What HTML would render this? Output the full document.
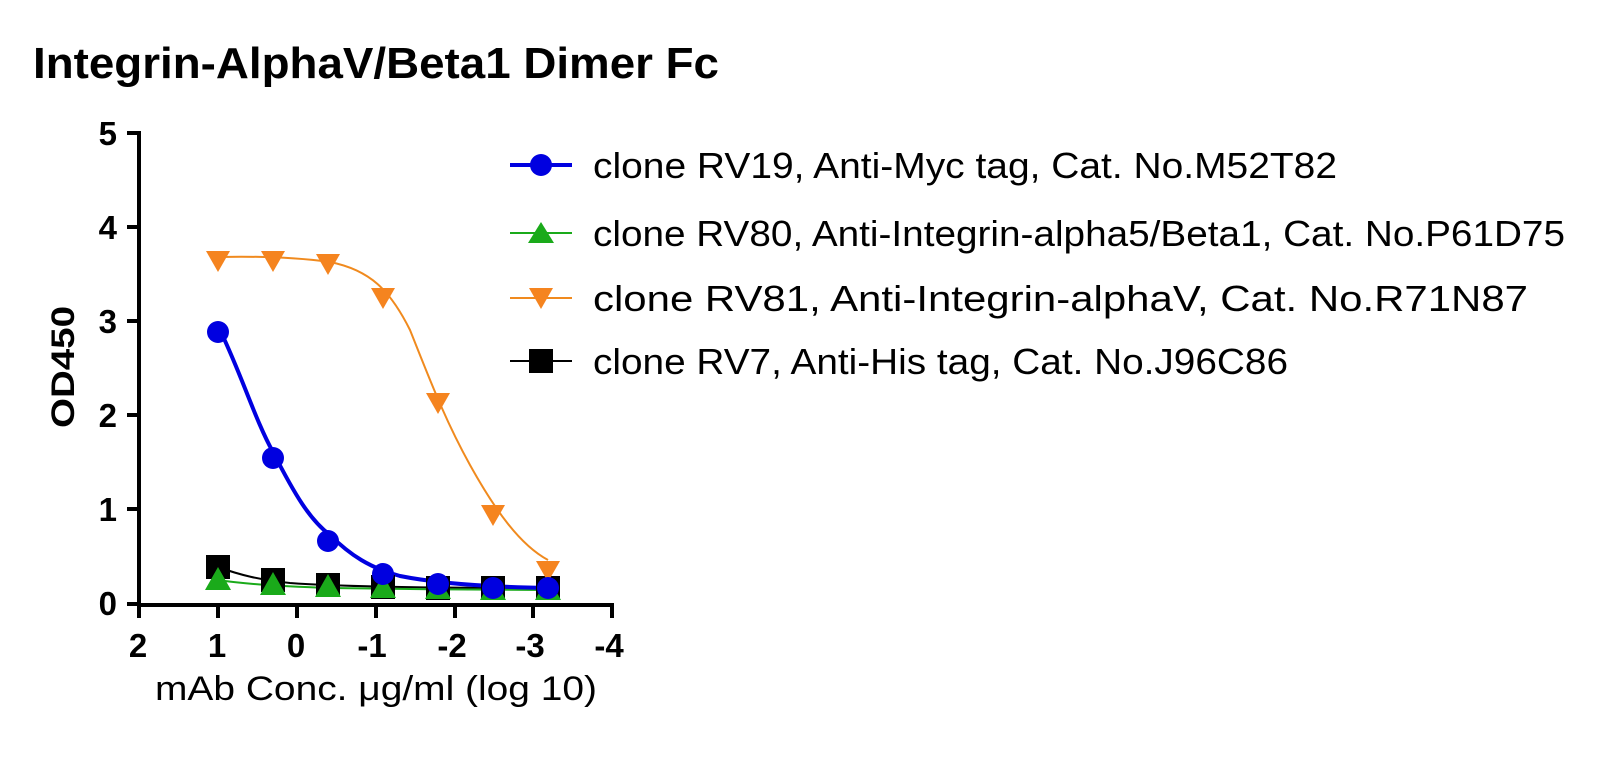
<!DOCTYPE html>
<html><head><meta charset="utf-8"><style>
body{margin:0;background:#fff;width:1600px;height:755px;overflow:hidden}
text{font-family:"Liberation Sans",Arial,sans-serif}
</style></head><body>
<svg width="1600" height="755" viewBox="0 0 1600 755" xmlns="http://www.w3.org/2000/svg">
<text x="33" y="78" font-size="44" font-weight="bold" textLength="686" lengthAdjust="spacingAndGlyphs">Integrin-AlphaV/Beta1 Dimer Fc</text>
<g stroke="#000" stroke-width="4" fill="none">
<polyline points="127,133 139,133 139,605 612,605"/>
<line x1="127" y1="227" x2="139" y2="227"/><line x1="127" y1="321" x2="139" y2="321"/>
<line x1="127" y1="415" x2="139" y2="415"/><line x1="127" y1="509" x2="139" y2="509"/>
<line x1="127" y1="604" x2="139" y2="604"/>
<line x1="139" y1="605" x2="139" y2="618"/><line x1="218" y1="605" x2="218" y2="618"/>
<line x1="297" y1="605" x2="297" y2="618"/><line x1="376" y1="605" x2="376" y2="618"/>
<line x1="455" y1="605" x2="455" y2="618"/><line x1="533" y1="605" x2="533" y2="618"/>
<line x1="612" y1="603" x2="612" y2="618"/>
</g>
<g font-size="33" font-weight="bold" text-anchor="end">
<text x="117" y="145">5</text><text x="117" y="239">4</text><text x="117" y="333">3</text>
<text x="117" y="427">2</text><text x="117" y="521">1</text><text x="117" y="615">0</text>
</g>
<g font-size="33" font-weight="bold" text-anchor="middle">
<text x="138" y="657">2</text><text x="217" y="657">1</text><text x="296" y="657">0</text>
<text x="372" y="657">-1</text><text x="452" y="657">-2</text><text x="530" y="657">-3</text><text x="609" y="657">-4</text>
</g>
<text transform="translate(74,367) rotate(-90)" font-size="32" font-weight="bold" text-anchor="middle" textLength="122" lengthAdjust="spacingAndGlyphs">OD450</text>
<text x="155" y="700" font-size="34" textLength="442" lengthAdjust="spacingAndGlyphs">mAb Conc. μg/ml (log 10)</text>
<path d="M218,567 C240,575 260,580 290,583 C330,586 400,588 548,588" stroke="#000" stroke-width="2" fill="none"/>
<path d="M218,580 C250,585 300,587 330,588 C400,589 480,590 548,590" stroke="#1aaa1a" stroke-width="2" fill="none"/>
<path d="M218,257 C260,256 300,258 330,262 C370,270 390,290 410,330 C430,380 445,420 470,465 C495,510 520,545 548,560" stroke="#f08a1e" stroke-width="2" fill="none"/>
<path d="M218,326 C240,370 255,420 273,452 C295,495 310,520 330,535 C350,555 370,568 400,576 C440,584 490,587 548,588" stroke="#0000e0" stroke-width="4" fill="none"/>
<g fill="#000">
<rect x="206" y="555" width="24" height="24"/><rect x="261" y="568" width="24" height="24"/>
<rect x="316" y="573" width="24" height="24"/><rect x="371" y="575" width="24" height="24"/>
<rect x="426" y="576" width="24" height="24"/><rect x="481" y="576" width="24" height="24"/>
<rect x="536" y="576" width="24" height="24"/>
</g>
<g fill="#1aaa1a">
<polygon points="218,567 231,590 205,590"/><polygon points="273,572 286,595 260,595"/>
<polygon points="328,574 341,597 315,597"/><polygon points="383,575 396,598 370,598"/>
<polygon points="438,576 451,599 425,599"/><polygon points="493,577 506,600 480,600"/>
<polygon points="548,577 561,600 535,600"/>
</g>
<g fill="#f5841f">
<polygon points="206,251 230,251 218,272"/><polygon points="261,251 285,251 273,272"/>
<polygon points="316,254 340,254 328,275"/><polygon points="371,288 395,288 383,309"/>
<polygon points="426,393 450,393 438,414"/><polygon points="481,505 505,505 493,526"/>
<polygon points="536,561 560,561 548,582"/>
</g>
<g fill="#0000e0">
<circle cx="218" cy="332" r="11"/><circle cx="273" cy="458" r="11"/><circle cx="328" cy="541" r="11"/>
<circle cx="383" cy="574" r="11"/><circle cx="438" cy="584" r="11"/><circle cx="493" cy="588" r="11"/>
<circle cx="548" cy="588" r="11"/>
</g>
<line x1="510" y1="165" x2="572" y2="165" stroke="#0000e0" stroke-width="4"/><circle cx="541" cy="165" r="11" fill="#0000e0"/>
<line x1="510" y1="233" x2="572" y2="233" stroke="#1aaa1a" stroke-width="2"/><polygon points="541,222 554,243 528,243" fill="#1aaa1a"/>
<line x1="510" y1="298" x2="572" y2="298" stroke="#f08a1e" stroke-width="2"/><polygon points="529,288 553,288 541,309" fill="#f5841f"/>
<line x1="510" y1="361" x2="572" y2="361" stroke="#000" stroke-width="2"/><rect x="529" y="349" width="24" height="24" fill="#000"/>
<g font-size="36">
<text x="593" y="178" textLength="744" lengthAdjust="spacingAndGlyphs">clone RV19, Anti-Myc tag, Cat. No.M52T82</text>
<text x="593" y="246" textLength="972" lengthAdjust="spacingAndGlyphs">clone RV80, Anti-Integrin-alpha5/Beta1, Cat. No.P61D75</text>
<text x="593" y="311" textLength="935" lengthAdjust="spacingAndGlyphs">clone RV81, Anti-Integrin-alphaV, Cat. No.R71N87</text>
<text x="593" y="374" textLength="695" lengthAdjust="spacingAndGlyphs">clone RV7, Anti-His tag, Cat. No.J96C86</text>
</g>
</svg>
</body></html>
